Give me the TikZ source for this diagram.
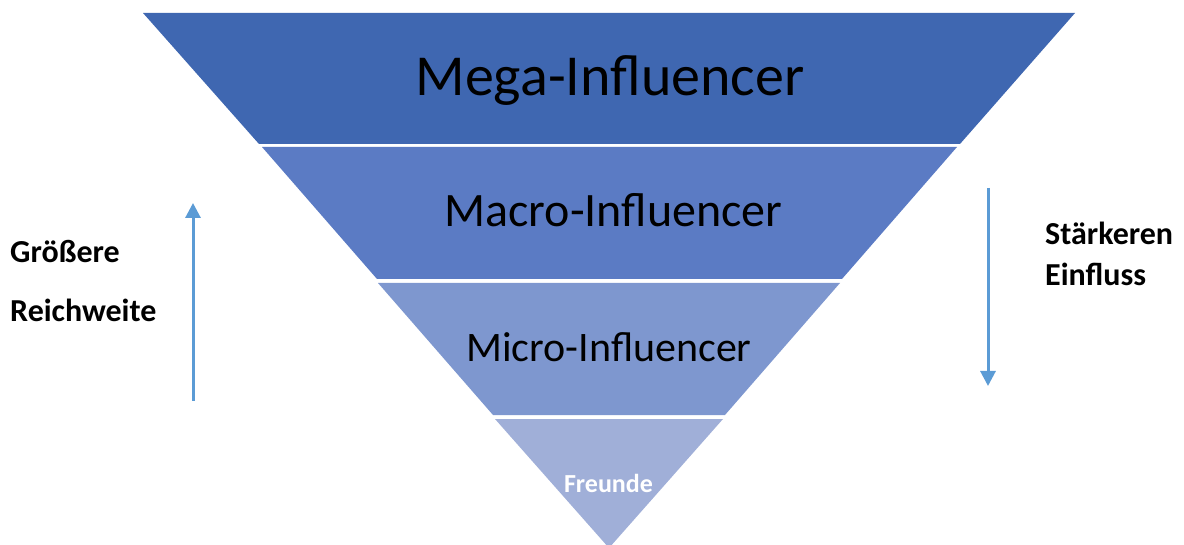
\documentclass[tikz,border=0pt]{standalone}
\usepackage{fontspec}
\setmainfont{Carlito}
\usetikzlibrary{arrows.meta}
\definecolor{megac}{RGB}{63,103,177}
\definecolor{macroc}{RGB}{91,123,196}
\definecolor{microc}{RGB}{126,151,207}
\definecolor{freundec}{RGB}{160,175,216}
\definecolor{arrowc}{RGB}{91,155,213}
\tikzset{
  bandtext/.style={font=\fontsize{#1}{#1}\selectfont, text=black, inner sep=0pt, anchor=base},
  sidetext/.style={font=\fontsize{32}{32}\selectfont\bfseries, text=black, anchor=base west, inner sep=0pt},
  sidearrow/.style={draw=arrowc, line width=3pt, -{Triangle[width=15pt,length=15pt]}}
}
\begin{document}
\begin{tikzpicture}[x=1pt,y=-1pt]
\useasboundingbox (0,0) rectangle (1184,545);
\fill[megac] (143,13) -- (1075,13) -- (960,144) -- (259,144) -- cycle;
\fill[macroc] (262,147) -- (957,147) -- (842,279) -- (377,279) -- cycle;
\fill[microc] (378,283) -- (840,283) -- (725,415) -- (493,415) -- cycle;
\fill[freundec] (495,419) -- (723,419) -- (609,548) -- cycle;
\node[bandtext=58] (mega) at (610,96) {Mega-Influencer};
\node[bandtext=48] (macro) at (613.5,227) {Macro-Influencer};
\node[bandtext=42] (micro) at (609,362) {Micro-Influencer};
\node[font=\fontsize{26}{26}\selectfont\bfseries, text=white, inner sep=0pt, anchor=base] (freunde) at (608.5,492) {Freunde};
\node[sidetext] (gr) at (10,263) {Größere};
\node[sidetext] (rw) at (10,322) {Reichweite};
\node[sidetext] (st) at (1045,245) {Stärkeren};
\node[sidetext] (ei) at (1045,286) {Einfluss};
\coordinate (la) at (193,401);
\coordinate (lb) at (193,203);
\coordinate (ra) at (988,188);
\coordinate (rb) at (988,386);
\draw[sidearrow] (la) -- (lb);
\draw[sidearrow] (ra) -- (rb);
\end{tikzpicture}
\end{document}
